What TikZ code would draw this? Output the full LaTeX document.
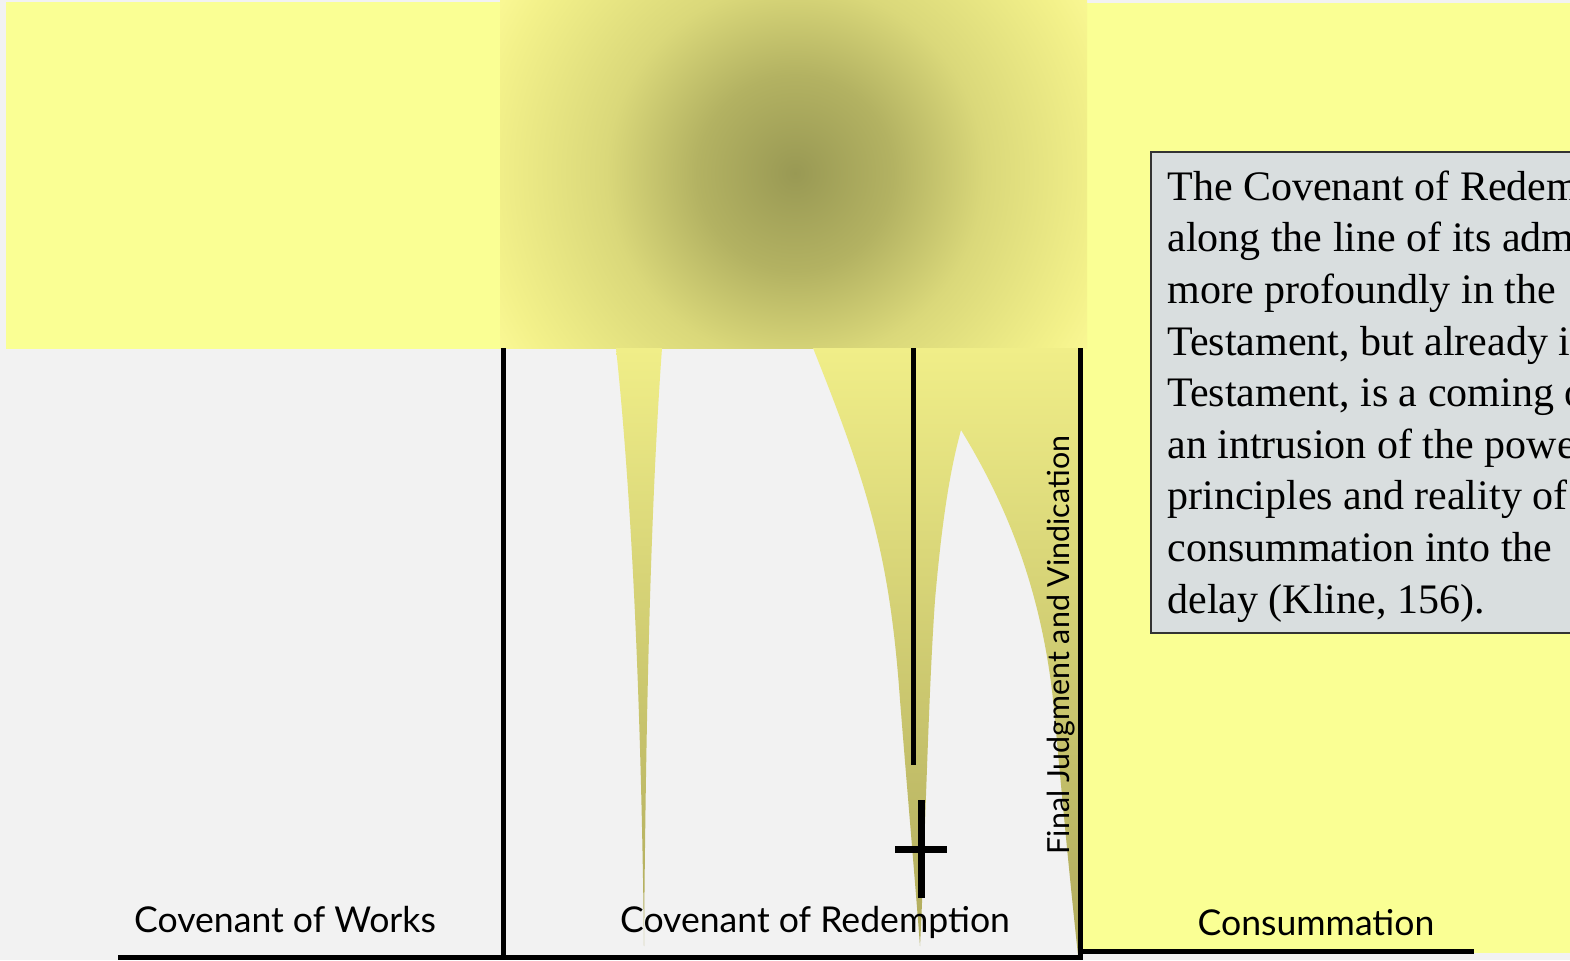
\documentclass[tikz,border=0pt]{standalone}
\usepackage{fontspec}
\setmainfont{Liberation Serif}
\newfontfamily\gillfont{Lato}

\definecolor{paper}{HTML}{F2F2F2}
\definecolor{pad}{HTML}{FAFF94}
\definecolor{glowcore}{HTML}{999954}
\definecolor{glowmid}{HTML}{B3B262}
\definecolor{glowpale}{HTML}{DAD87A}
\definecolor{glowedge}{HTML}{F3F18A}
\definecolor{glowrim}{HTML}{FBF996}
\definecolor{spiketop}{HTML}{F0EE88}
\definecolor{spikefoot}{HTML}{AFAA5C}
\definecolor{quotebg}{HTML}{D9DEDF}
\definecolor{quoteline}{HTML}{333333}

\pgfdeclareradialshading{glow}{\pgfpoint{0bp}{0bp}}{color(0bp)=(glowcore); color(7bp)=(glowmid); color(13.5bp)=(glowpale); color(22bp)=(glowedge); color(25bp)=(glowrim); color(50bp)=(glowrim)}

\tikzset{
    spike/.style={top color=spiketop, bottom color=spikefoot},
    quote/.style={anchor=base west, align=left, inner sep=0pt, font=\fontsize{21}{25.8}\selectfont},
}

\begin{document}
\begin{tikzpicture}[x=0.5pt, y=-0.5pt]
    \useasboundingbox (0,0) rectangle (1570,960);
    \fill[paper] (0,0) rectangle (1570,960);

    % panels
    \fill[pad] (1080,3) rectangle (1570,953);
    \fill[pad] (6,2) rectangle (500,349);
    \begin{scope}
        \clip (500,0) rectangle (1087,348);
        \shade[shading=glow] (445,-177) rectangle (1145,523);
    \end{scope}
    \filldraw[fill=quotebg, draw=quoteline, line width=1pt] (1151,152) rectangle (1600,633);
    \node[quote] (kline) at (1167,613) {The Covenant of Redemption\\ along the line of its administration\\ more profoundly in the\\ Testament, but already in\\ Testament, is a coming of\\ an intrusion of the powers\\ principles and reality of\\ consummation into the\\ delay (Kline, 156).};

    % spikes
    \shade[spike] (616,348) .. controls (632,500) and (641,700) .. (644,946)
        .. controls (646,700) and (651,500) .. (662,348) -- cycle;
    \shade[spike] (813,348) .. controls (870,490) and (890,560) .. (900,700)
        .. controls (908,800) and (915,880) .. (920,946)
        .. controls (925,850) and (928,700) .. (935,600)
        .. controls (942,520) and (950,470) .. (961,430)
        .. controls (1010,510) and (1045,600) .. (1055,720)
        .. controls (1065,830) and (1072,900) .. (1078,955)
        -- (1080,955) -- (1080,348) -- cycle;

    % dividers
    \begin{scope}[every edge/.style={draw, line width=2.5pt}]
        \coordinate (w0) at (503,348);
        \coordinate (w1) at (503,960);
        \coordinate (r0) at (1080,348);
        \coordinate (r1) at (1080,960);
        \coordinate (m0) at (913,348);
        \coordinate (m1) at (913,765);
        \coordinate (b0) at (118,957);
        \coordinate (b1) at (1080,957);
        \coordinate (c0) at (1080,951.5);
        \coordinate (c1) at (1474,951.5);
        \path [-] (w0) edge (w1);
        \path [-] (r0) edge (r1);
        \path [-] (m0) edge (m1);
        \path [-] (b0) edge (b1);
        \path [-] (c0) edge (c1);
    \end{scope}

    % cross
    \begin{scope}[every edge/.style={draw, line width=3.5pt}]
        \coordinate (x0) at (921,800);
        \coordinate (x1) at (921,898);
        \coordinate (x2) at (895,849);
        \coordinate (x3) at (947,849);
        \path [-] (x0) edge (x1);
        \path [-] (x2) edge (x3);
    \end{scope}

    % labels
    \begin{scope}[every node/.style={anchor=base, inner sep=0pt, font=\gillfont\fontsize{17.8}{21}\selectfont}]
        \node (works) at (285,932) {Covenant of Works};
        \node (redemption) at (815,932) {Covenant of Redemption};
        \node (consummation) at (1316,935) {Consummation};
        \node[rotate=90, font=\gillfont\fontsize{15.2}{18}\selectfont] (judgment) at (1069,645) {Final Judgment and Vindication};
    \end{scope}
\end{tikzpicture}
\end{document}
